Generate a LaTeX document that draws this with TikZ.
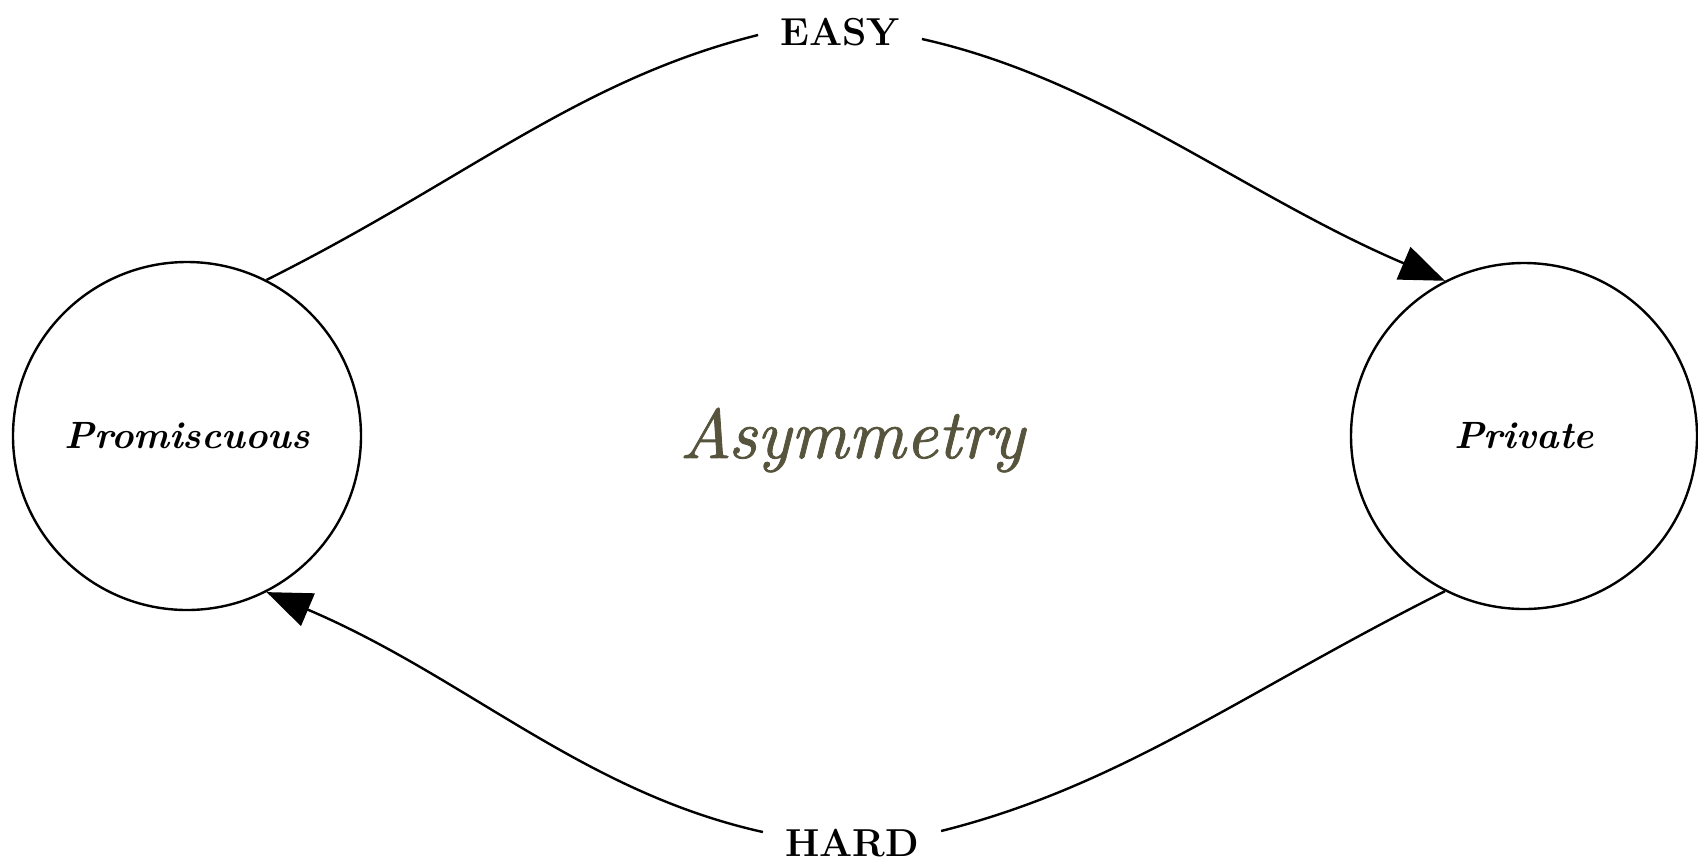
\documentclass[tikz,border=0pt]{standalone}
\usepackage{fontspec}
\newfontfamily\asymfont{lmroman10-italic.otf}[FakeBold=1.2]
\usetikzlibrary{arrows.meta}
\definecolor{asymcol}{RGB}{86,84,60}
\begin{document}
\begin{tikzpicture}[x=1pt,y=-1pt,
  state/.style={draw,circle,line width=2.4pt,inner sep=0pt,
    font=\fontsize{38}{44}\selectfont\bfseries\itshape},
  edgelab/.style={inner xsep=22pt,inner ysep=0pt,font=\fontsize{39}{44}\selectfont\bfseries},
  conn/.style={line width=2.4pt},
  tip/.style={-{Triangle[length=45pt,width=35pt]}}]
\useasboundingbox (0,0) rectangle (1698,863);
\node[state,minimum size=348pt] (L) at (187,436) {Promiscuous};
\node[state,minimum size=346pt] (R) at (1524,436) {Private};
\node[edgelab] (E) at (840,32) {EASY};
\node[edgelab] (H) at (852,843) {HARD};
\node[anchor=base,text=asymcol,font=\fontsize{70}{76}\asymfont] (A) at (852,458) {Asymmetry};
\draw[conn] (L.63) .. controls +(200,-100) and +(-180,45) .. ([yshift=-3pt]E.west);
\draw[conn,tip] ([yshift=-7pt]E.east) .. controls +(180,40) and +(-200,-85) .. (R.117);
\draw[conn] (R.243) .. controls +(-200,100) and +(180,-45) .. ([yshift=12pt]H.east);
\draw[conn,tip] ([yshift=11pt]H.west) .. controls +(-180,-40) and +(200,85) .. (L.297);
\end{tikzpicture}
\end{document}
